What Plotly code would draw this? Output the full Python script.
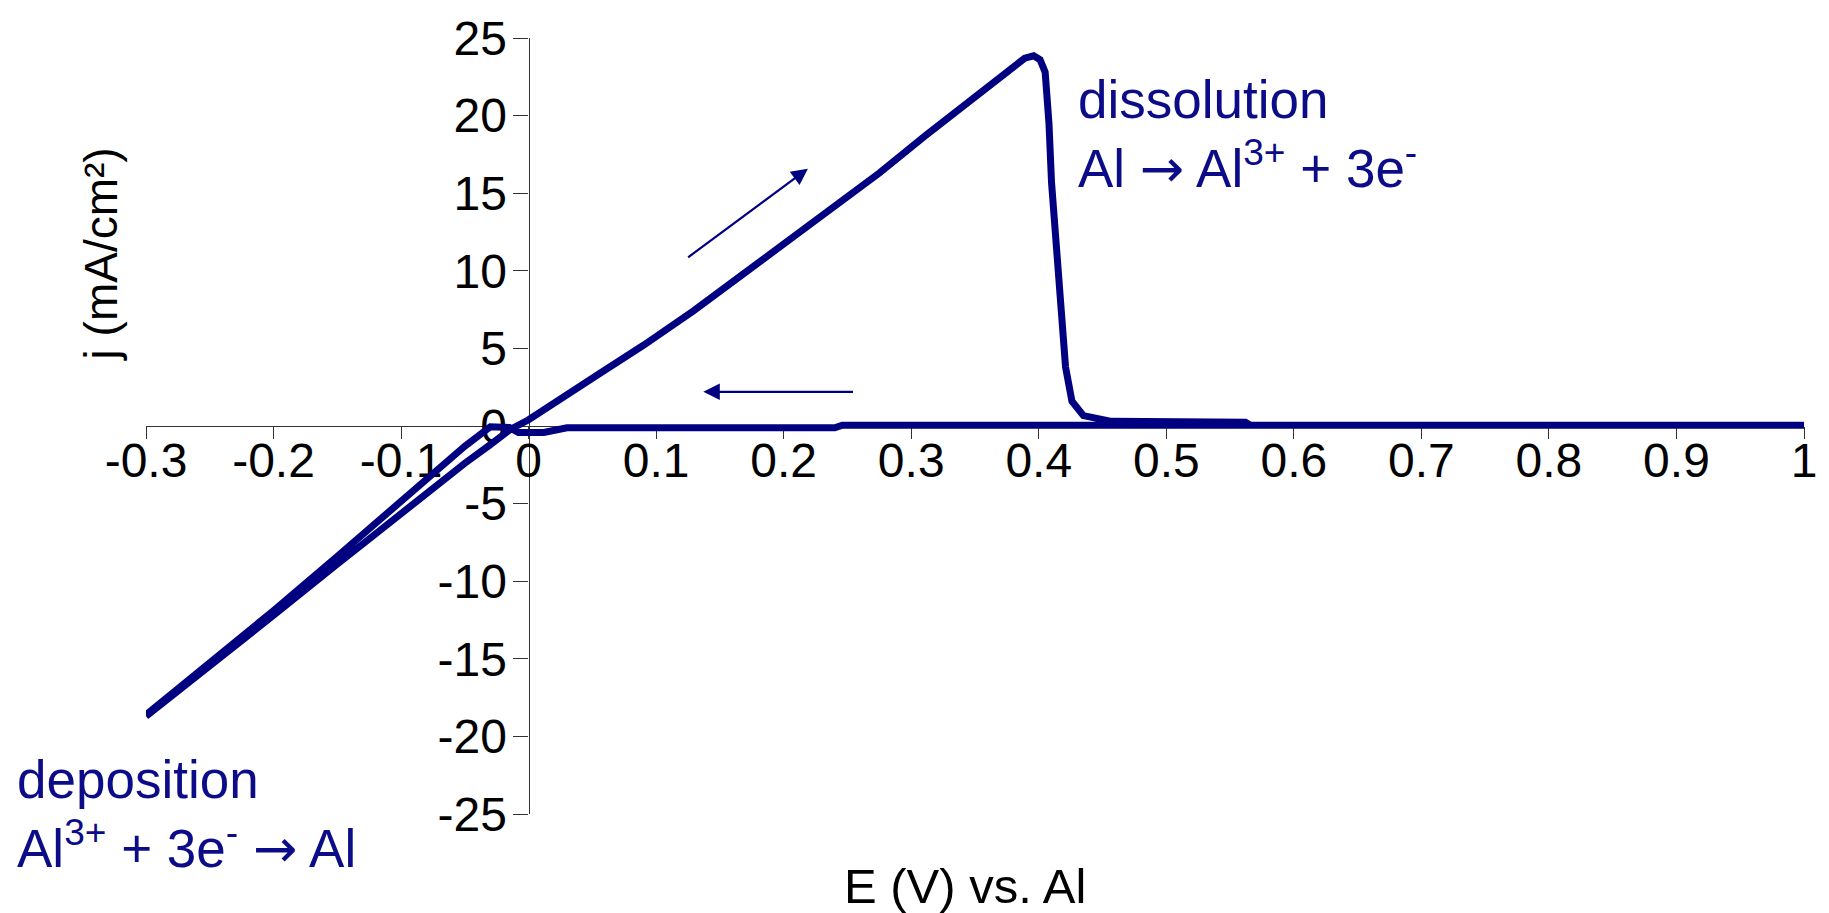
import plotly.graph_objects as go

# ---- data ----
# forward (positive-going) scan
fwd_E = [-0.300, -0.25, -0.20, -0.15, -0.10, -0.05, -0.03, -0.014, 0.00, 0.02, 0.056,
         0.09, 0.129, 0.17, 0.22, 0.275, 0.311, 0.348, 0.37, 0.38, 0.389, 0.396, 0.401,
         0.405, 0.408, 0.410, 0.414, 0.417, 0.421, 0.426, 0.435, 0.457, 0.50, 0.55,
         0.562, 0.566, 0.70, 1.00]
fwd_j = [-18.7, -15.5, -12.2, -8.9, -5.6, -2.4, -1.2, -0.2, 0.4, 1.5, 3.4,
         5.2, 7.4, 9.9, 12.9, 16.3, 18.7, 21.1, 22.5, 23.2, 23.7, 23.85, 23.6,
         22.8, 19.5, 15.7, 11.2, 7.2, 3.8, 1.6, 0.67, 0.3, 0.25, 0.25,
         0.25, 0.05, 0.05, 0.05]
# reverse (negative-going) scan
rev_E = [1.00, 0.60, 0.246, 0.240, 0.10, 0.03, 0.012, -0.008, -0.015, -0.03,
         -0.05, -0.10, -0.15, -0.20, -0.25, -0.30]
rev_j = [0.05, 0.05, 0.05, -0.12, -0.12, -0.12, -0.42, -0.42, -0.1, -0.05,
         -1.3, -4.9, -8.4, -11.9, -15.3, -18.6]

x_tick_vals = [-0.3, -0.2, -0.1, 0, 0.1, 0.2, 0.3, 0.4, 0.5, 0.6, 0.7, 0.8, 0.9, 1]
x_tick_text = ["-0.3", "-0.2", "-0.1", "0", "0.1", "0.2", "0.3", "0.4", "0.5",
               "0.6", "0.7", "0.8", "0.9", "1"]
y_tick_vals = [-25, -20, -15, -10, -5, 0, 5, 10, 15, 20, 25]
y_tick_text = ["-25", "-20", "-15", "-10", "-5", "0", "5", "10", "15", "20", "25"]

NAVY = "#000080"
TXT_NAVY = "#0C0C88"
FONT = "Liberation Sans, Arial, sans-serif"
AXC = "#333333"
ARROW = '<span style="font-family:DejaVu Sans">→</span>'

fig = go.Figure()
fig.add_trace(go.Scatter(x=fwd_E + rev_E[1:], y=fwd_j + rev_j[1:], mode="lines",
                         line=dict(color=NAVY, width=7), showlegend=False,
                         hoverinfo="skip"))

fig.update_layout(
    width=1829, height=913,
    margin=dict(l=146, r=14, t=30, b=99),
    paper_bgcolor="white", plot_bgcolor="white",
    font=dict(family=FONT, color="black", size=48),
    xaxis=dict(range=[-0.3, 1], tickmode="array", tickvals=x_tick_vals,
               ticktext=x_tick_text, anchor="free", position=0.5,
               showline=True, linecolor=AXC, linewidth=1.3,
               ticks="outside", ticklen=12, tickwidth=1.3, tickcolor=AXC,
               showgrid=False, zeroline=False, layer="below traces",
               tickfont=dict(family=FONT, size=48, color="black"),
               ticklabelstandoff=-20, ticklabeloverflow="allow"),
    yaxis=dict(range=[-25, 25], tickmode="array", tickvals=y_tick_vals,
               ticktext=y_tick_text, anchor="free", position=0.3 / 1.3,
               showline=True, linecolor=AXC, linewidth=1.3,
               ticks="outside", ticklen=15, tickwidth=1.3, tickcolor=AXC,
               showgrid=False, zeroline=False, layer="below traces",
               tickfont=dict(family=FONT, size=48, color="black"),
               ticklabelstandoff=-3, ticklabeloverflow="allow"),
)

annos = [
    dict(text="dissolution<br>Al " + ARROW + " Al<sup>3+</sup> + 3e<sup>-</sup>",
         x=0.561, y=0.961, xref="paper", yref="paper", xanchor="left",
         yanchor="top", align="left", showarrow=False,
         font=dict(family=FONT, size=53, color=TXT_NAVY)),
    dict(text="deposition<br>Al<sup>3+</sup> + 3e<sup>-</sup> " + ARROW + " Al",
         x=-0.0793, y=0.0855, xref="paper", yref="paper", xanchor="left",
         yanchor="top", align="left", showarrow=False,
         font=dict(family=FONT, size=53, color=TXT_NAVY)),
    dict(text="j (mA/cm²)", textangle=-90, x=-0.027, y=0.7214, xref="paper",
         yref="paper", xanchor="center", yanchor="middle", showarrow=False,
         font=dict(family=FONT, size=46, color="black")),
    dict(text="E (V) vs. Al", x=0.4937, y=-0.0931, xref="paper", yref="paper",
         xanchor="center", yanchor="middle", showarrow=False,
         font=dict(family=FONT, size=49, color="black")),
    dict(text="", x=0.219, y=16.58, ax=0.1239, ay=10.8, xref="x", yref="y",
         axref="x", ayref="y", showarrow=True, arrowhead=2, arrowsize=1.5,
         arrowwidth=2.2, arrowcolor=NAVY),
    dict(text="", x=0.137, y=2.2, ax=0.2555, ay=2.2, xref="x", yref="y",
         axref="x", ayref="y", showarrow=True, arrowhead=2, arrowsize=1.5,
         arrowwidth=2.2, arrowcolor=NAVY),
]
fig.update_layout(annotations=annos)

fig.write_html("out.html")
